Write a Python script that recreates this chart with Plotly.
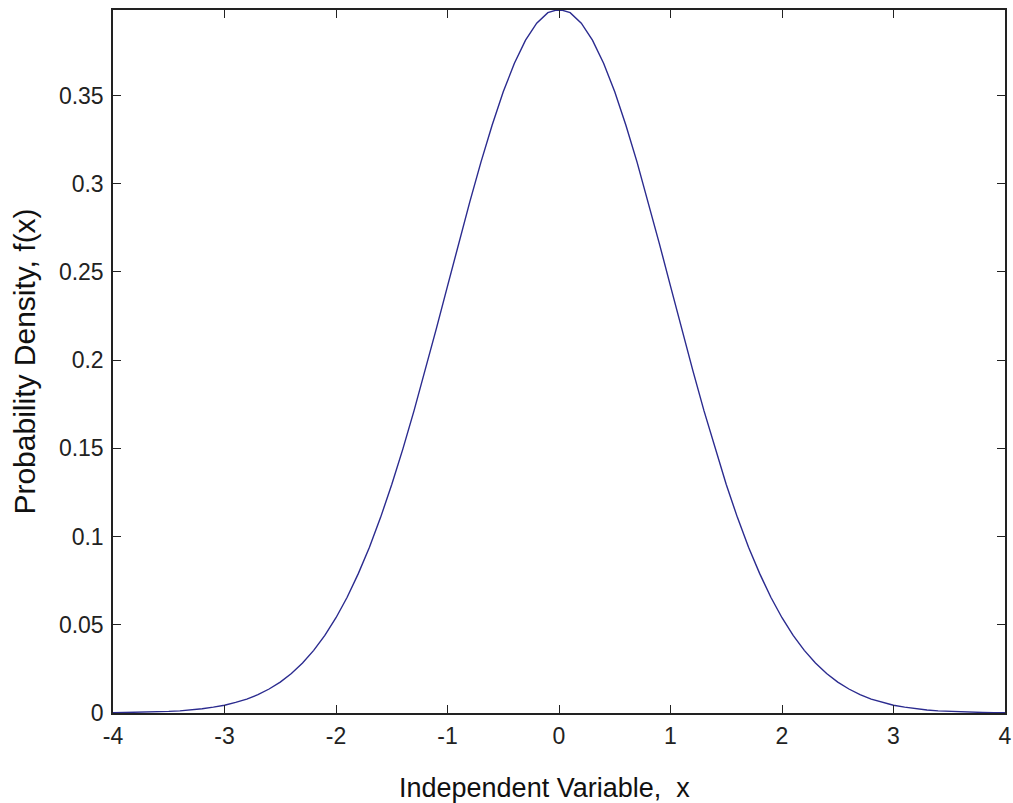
import plotly.graph_objects as go

# Values (x step 0.1)
x_values = [
    -4.0, -3.9, -3.8, -3.7, -3.6, -3.5, -3.4, -3.3, -3.2, -3.1,
    -3.0, -2.9, -2.8, -2.7, -2.6, -2.5, -2.4, -2.3, -2.2, -2.1,
    -2.0, -1.9, -1.8, -1.7, -1.6, -1.5, -1.4, -1.3, -1.2, -1.1,
    -1.0, -0.9, -0.8, -0.7, -0.6, -0.5, -0.4, -0.3, -0.2, -0.1,
    0.0, 0.1, 0.2, 0.3, 0.4, 0.5, 0.6, 0.7, 0.8, 0.9,
    1.0, 1.1, 1.2, 1.3, 1.4, 1.5, 1.6, 1.7, 1.8, 1.9,
    2.0, 2.1, 2.2, 2.3, 2.4, 2.5, 2.6, 2.7, 2.8, 2.9,
    3.0, 3.1, 3.2, 3.3, 3.4, 3.5, 3.6, 3.7, 3.8, 3.9, 4.0,
]
density = [
    0.0001, 0.0002, 0.0003, 0.0004, 0.0006, 0.0009, 0.0012, 0.0017, 0.0024, 0.0033,
    0.0044, 0.0060, 0.0079, 0.0104, 0.0136, 0.0175, 0.0224, 0.0283, 0.0355, 0.0440,
    0.0540, 0.0656, 0.0790, 0.0940, 0.1109, 0.1295, 0.1497, 0.1714, 0.1942, 0.2179,
    0.2420, 0.2661, 0.2897, 0.3123, 0.3332, 0.3521, 0.3683, 0.3814, 0.3910, 0.3970,
    0.3989, 0.3970, 0.3910, 0.3814, 0.3683, 0.3521, 0.3332, 0.3123, 0.2897, 0.2661,
    0.2420, 0.2179, 0.1942, 0.1714, 0.1497, 0.1295, 0.1109, 0.0940, 0.0790, 0.0656,
    0.0540, 0.0440, 0.0355, 0.0283, 0.0224, 0.0175, 0.0136, 0.0104, 0.0079, 0.0060,
    0.0044, 0.0033, 0.0024, 0.0017, 0.0012, 0.0009, 0.0006, 0.0004, 0.0003, 0.0002, 0.0001,
]

x_ticks = [-4, -3, -2, -1, 0, 1, 2, 3, 4]
x_tick_labels = ['-4', '-3', '-2', '-1', '0', '1', '2', '3', '4']
y_ticks = [0, 0.05, 0.1, 0.15, 0.2, 0.25, 0.3, 0.35]
y_tick_labels = ['0', '0.05', '0.1', '0.15', '0.2', '0.25', '0.3', '0.35']

font_family = 'Liberation Sans, Arial, sans-serif'

fig = go.Figure()

fig.add_trace(go.Scatter(
    x=x_values,
    y=density,
    mode='lines',
    line=dict(color='#2b2b8f', width=1.4),
    showlegend=False,
))

axis_style = dict(
    showline=True,
    linecolor='#222222',
    linewidth=1.5,
    mirror='ticks',
    ticks='inside',
    ticklen=8,
    tickwidth=1.2,
    tickcolor='#222222',
    showgrid=False,
    zeroline=False,
    automargin=False,
    ticklabeloverflow='allow',
    tickfont=dict(family=font_family, size=23, color='#222222'),
)

fig.update_layout(
    width=1013,
    height=803,
    margin=dict(l=113, r=8, t=10, b=90),
    paper_bgcolor='white',
    plot_bgcolor='white',
    font=dict(family=font_family, color='#111111'),
    xaxis=dict(
        range=[-4, 4],
        tickvals=x_ticks,
        ticktext=x_tick_labels,
        ticklabelstandoff=2,
        **axis_style,
    ),
    yaxis=dict(
        range=[0, 0.3985],
        tickvals=y_ticks,
        ticktext=y_tick_labels,
        ticklabelstandoff=3,
        title=dict(text='Probability Density, f(x)', font=dict(size=30), standoff=14),
        **axis_style,
    ),
)

# x label sits slightly left of the axis centre in the original
fig.add_annotation(
    text='Independent Variable,  x',
    xref='paper', yref='paper',
    x=0.484, y=0,
    xanchor='center', yanchor='top',
    yshift=-58,
    showarrow=False,
    font=dict(family=font_family, size=27, color='#111111'),
)

# drop the browser's default body margin so the figure fills the window
fig.write_html(
    "out.html",
    config={'displayModeBar': False},
    post_script="document.body.style.margin = '0';",
)
